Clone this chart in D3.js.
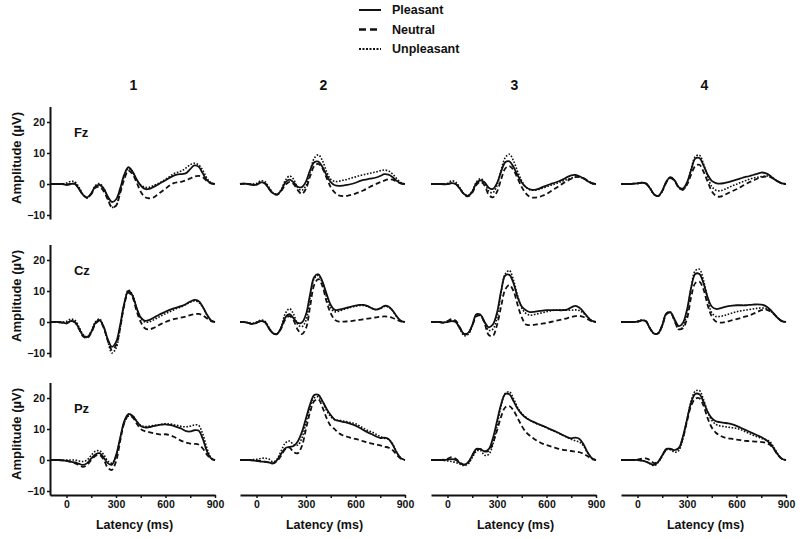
<!DOCTYPE html>
<html>
<head>
<meta charset="utf-8">
<script src="https://cdn.jsdelivr.net/npm/d3@7"></script>
<style>
  html, body { margin: 0; padding: 0; background: #fff; }
  svg { display: block; font-family: "Liberation Sans", Arial, sans-serif; }
</style>
</head>
<body>
<svg id="chart" width="800" height="539"></svg>
<script>
// ---------------- DATA ----------------
const times = [-100,-75,-50,-25,0,25,50,75,100,125,150,175,200,225,250,275,300,325,350,375,400,425,450,475,500,525,550,575,600,625,650,675,700,725,750,775,800,825,850,875,900];
const conditions = ["Pleasant", "Neutral", "Unpleasant"];
const columnTitles = ["1", "2", "3", "4"];
const sites = ["Fz", "Cz", "Pz"];
const yTicks = [-10, 0, 10, 20];
const xTicksMajor = [0, 300, 600, 900];
const xTicksMinor = [150, 450, 750];

// Fz
const fz1_pleasant   = [0,0,0,0,-0.3,0,0,-1.5,-3.5,-4.3,-3,-0.8,-0.3,-1.5,-4,-5.8,-5,-1.5,3,5.4,4,1.5,-0.5,-1.6,-1.6,-1,-0.3,0.5,1.2,2,2.7,3.1,3.2,3.5,4.8,6,5.6,3.5,1.3,0.3,0];
const fz1_neutral    = [0,0,0,0,-0.2,0,0.2,-1.5,-3.5,-4.5,-3.3,-1.2,-1,-2.3,-5,-7.5,-7,-3,1.5,4.3,3.2,0.5,-2.5,-4.2,-4.6,-4.4,-3.5,-2.5,-1.5,-0.5,0.3,0.6,0.8,1.2,1.8,2.4,2.6,2.2,1,0.2,0];
const fz1_unpleasant = [0,0,0,0,0.3,0.8,0.7,-1,-3.3,-4.5,-3.2,-0.5,0.1,-1.3,-4.3,-7.5,-7,-2.5,2.5,5,4,1.3,-0.3,-1,-1.1,-0.6,0,0.7,1.5,2.4,3.3,3.8,4.3,5.2,6.2,6.7,6.2,4.5,2,0.4,0];
const fz2_pleasant   = [0,0.1,0,-0.3,-0.2,0.5,0.3,-1.5,-3,-3.4,-2,0.5,1.4,0.5,-0.9,-1,0.8,4.5,7,7.2,5.5,2.8,0.6,-0.4,-0.6,-0.5,-0.3,0,0.4,0.9,1.3,1.6,1.8,2.1,2.6,3.2,3,2.2,1,0.2,0];
const fz2_neutral    = [0,0.1,0,-0.2,-0.2,0.4,0.2,-1.5,-3,-3.4,-2.2,-0.3,0.7,0,-2,-3.2,-1.5,2.5,5.8,6.5,5,2,-1,-2.8,-3.7,-3.9,-3.8,-3.5,-3.1,-2.6,-2,-1.3,-0.6,0,0.6,1.1,1.5,1.4,0.8,0.2,0];
const fz2_unpleasant = [0,0.1,0,0,0.2,1,0.8,-1,-2.8,-3.3,-1.8,1.2,2.6,1.5,-1.2,-2,-0.5,4,8.3,9.4,7.5,4,1.5,0.8,0.9,1.2,1.5,1.9,2.3,2.7,3,3.3,3.6,3.9,4.3,4.5,4.2,3.2,1.7,0.5,0];
const fz3_pleasant   = [0,0,0,-0.1,0,0.3,0,-1.5,-3.2,-3.8,-2.5,0.3,1.2,0.5,-1.2,-1.6,0.3,4,7,7.3,5.5,2.8,0.5,-1,-1.7,-1.9,-1.6,-1,-0.5,0,0.4,0.9,1.5,2.2,2.8,2.9,2.5,1.8,0.9,0.2,0];
const fz3_neutral    = [0,0,0,0,0,0.3,0,-1.5,-3.3,-4,-2.8,-0.3,0.7,-0.5,-3.5,-4.3,-2.5,1.5,5,5.8,4.5,1.8,-1,-3,-4.2,-4.4,-4.2,-3.8,-3.2,-2.4,-1.5,-0.7,0.2,1,1.7,2.2,2.3,1.9,1.1,0.3,0];
const fz3_unpleasant = [0,0,0,0,0.2,1,0.6,-1.2,-3.2,-3.7,-2.3,0.6,1.7,0.5,-2.3,-2.8,-0.5,4.5,8.5,9.6,7.5,4,1,-1,-1.9,-2,-1.8,-1.4,-0.9,-0.4,0,0.5,1,1.5,1.9,2.2,2.2,1.7,0.9,0.2,0];
const fz4_pleasant   = [0,0,0,0.1,0.2,0.4,0.2,-1.3,-3.3,-3.9,-2.2,0.8,2.2,1.2,-1,-1.5,0.5,4.5,8.2,8.4,6,3,1,0.3,0.1,0.3,0.6,1,1.4,1.8,2.2,2.5,2.9,3.3,3.7,3.5,2.8,1.7,0.8,0.2,0];
const fz4_neutral    = [0,0,0,0.1,0.2,0.4,0.2,-1.3,-3.3,-3.9,-2.3,0.5,1.9,1,-1.2,-1.8,-0.2,3,5.8,6.2,4,0.8,-2.3,-3.8,-4.1,-3.6,-2.9,-2.3,-1.7,-1,-0.2,0.5,1.1,1.7,2.1,2.4,2.3,1.7,0.9,0.2,0];
const fz4_unpleasant = [0,0,0,0.1,0.2,0.4,0.2,-1.3,-3.4,-3.9,-2.3,0.7,2.1,1,-1.2,-1.9,0,4.8,8.8,9.3,6.5,2.5,-0.8,-2,-2.2,-1.8,-1.2,-0.6,-0.1,0.5,1,1.5,1.9,2.2,2.4,2.6,2.5,1.8,0.9,0.2,0];
// Cz
const cz1_pleasant   = [0,0,0,-0.2,-0.4,0.3,0,-2,-4.3,-4.9,-3.2,-0.3,0.6,-1.5,-5.5,-8,-6.5,-1,6,10,8.5,4.5,1.5,0.4,0.6,1.3,2,2.7,3.3,3.9,4.4,4.8,5.2,5.8,6.6,7.1,6.8,5,2.5,0.6,0];
const cz1_neutral    = [0,0,0,-0.2,-0.4,0.3,0,-2.2,-4.6,-5.2,-3.5,-0.6,0.4,-1.8,-6,-9,-7.5,-2,5.5,9.5,8,3.5,0,-2,-2.4,-2,-1.3,-0.6,0,0.5,0.9,1.2,1.5,1.8,2.2,2.5,2.6,2.2,1.2,0.3,0];
const cz1_unpleasant = [0,0,0,0,0.2,0.9,0.6,-1.5,-4,-4.8,-3,0,1,-1.5,-6,-10,-8.5,-2,5.5,10.3,8.8,4.5,1.2,0,0,0.6,1.3,2,2.7,3.3,3.9,4.5,5,5.7,6.4,6.8,6.4,4.8,2.3,0.5,0];
const cz2_pleasant   = [0,0,-0.3,-0.6,-0.3,0.3,0,-2,-3.6,-3.8,-1.8,1.5,2.5,1.2,-0.3,-0.2,2.5,9,14.5,15.4,13,9,5.5,3.9,4,4.3,4.6,5,5.3,5.5,5.5,5.1,4.4,4,4.4,5.2,5,3.7,1.8,0.4,0];
const cz2_neutral    = [0,0,-0.3,-0.6,-0.3,0.3,0,-2,-3.7,-3.9,-2,0.8,1.9,0.5,-2.5,-3.9,-2,5,12,13.8,11.5,6.5,2.8,0.7,0.1,0.1,0.2,0.3,0.5,0.7,0.9,1.1,1.3,1.5,1.7,1.8,1.7,1.3,0.7,0.2,0];
const cz2_unpleasant = [0,0,-0.2,-0.4,0,0.6,0.3,-1.7,-3.5,-3.8,-1.5,2.8,4.3,2.5,-0.8,-1.5,0.5,8,14,15,12.5,8,4.5,3.3,3.5,4,4.4,4.8,5.1,5.3,5.3,5,4.4,4,4.3,5,4.8,3.6,1.7,0.4,0];
const cz3_pleasant   = [0,0,0,-0.2,0,0.3,0,-2,-3.8,-3.5,-1,2.5,2.3,0,-1.7,-0.8,3,10,15,15.2,12.5,8,5,3.8,3.2,3.3,3.5,3.7,3.8,3.8,3.8,3.8,3.8,4,4.7,5.2,4.6,3.2,1.6,0.4,0];
const cz3_neutral    = [0,0,0,-0.2,0.3,0.9,0.4,-1.8,-3.9,-3.7,-1.2,1.8,2.1,-0.5,-4.2,-4.5,-1,5,10.5,11.9,10,5.5,1.5,-0.8,-1,-0.9,-0.7,-0.5,-0.3,0,0.3,0.6,0.9,1.2,1.6,1.9,2,1.6,0.9,0.2,0];
const cz3_unpleasant = [0,0,0,-0.1,0.2,0.5,0,-2.2,-4.4,-4,-1.3,2.3,2.4,-0.2,-2.7,-2.3,1.5,9.5,15.5,16.6,13.5,8.5,4.5,2.8,2.2,2.4,2.7,3,3.3,3.6,3.8,3.9,3.9,3.8,3.8,3.9,3.7,2.8,1.5,0.4,0];
const cz4_pleasant   = [0,0,0,0,0.1,0.5,0.3,-2,-3.7,-3.6,-1,2.8,3.1,0.8,-1.3,-0.3,4,11,15.5,15.5,12.5,8,5,4.2,4.4,4.8,5.1,5.3,5.4,5.4,5.4,5.5,5.6,5.7,5.6,5.2,4.2,2.8,1.3,0.3,0];
const cz4_neutral    = [0,0,0,0,0.1,0.5,0.3,-2,-3.7,-3.6,-1.2,2.5,3,0.3,-2.3,-2,1,8,12.5,13,10.5,5.5,1.8,0.2,-0.2,-0.1,0.2,0.6,0.9,1.3,1.7,2.1,2.6,3.2,3.8,4,3.6,2.6,1.3,0.3,0];
const cz4_unpleasant = [0,0,0,0,0.2,0.6,0.3,-2,-3.8,-3.8,-1.2,2.7,3.2,0.3,-2.4,-1.5,3,11,16.5,17,13.5,7.5,3,1.8,1.8,2.1,2.5,2.9,3.3,3.6,3.8,4,4.2,4.4,4.5,4.4,3.8,2.7,1.3,0.3,0];
// Pz
const pz1_pleasant   = [0,0,0,-0.1,-0.3,-0.5,-0.8,-1.2,-1.6,-1,0.5,1.8,2.2,0.8,-1,-1.5,1.5,7,12.5,14.8,14.3,12.5,11,10.5,10.6,10.9,11.2,11.4,11.5,11.3,11,10.5,10,9.3,9.2,9.6,9.5,7,3,0.6,0];
const pz1_neutral    = [0,0,0,-0.1,-0.3,-0.6,-1,-1.6,-2.2,-1.6,0,1.3,1.6,0.2,-2.5,-3.2,-0.5,6,12,14.3,13.8,11.8,10,9.3,9,8.7,8.4,8.2,8.3,8,7.5,6.8,6.1,5.6,5.3,5.2,5,3.8,1.8,0.4,0];
const pz1_unpleasant = [0,0,0,0,0,0,0,-0.3,-0.5,0,1.5,2.8,3,1.8,-0.3,-1,1,7,12,14.2,14.2,12.5,11.2,10.8,10.9,11.1,11.3,11.5,11.7,11.6,11.4,11.1,10.8,10.7,10.9,11.3,11.2,8.5,4,0.8,0];
const pz2_pleasant   = [0,0,0,-0.1,-0.3,-0.5,-0.6,-0.8,-1.1,0,2,3.8,4.2,4.5,6,9,13.5,18,21,21,19,16.5,14.5,13,12.6,12.3,12,11.6,11.1,10.4,9.6,8.9,8.3,7.6,7.1,7.2,6.8,5,2.4,0.6,0];
const pz2_neutral    = [0,0,0,-0.1,-0.2,-0.3,-0.5,-0.8,-1.1,-0.3,1.5,3.5,4,2.5,2.2,4.5,10,15.5,19,19.6,17,13.5,11,9.9,8.6,7.9,7.5,7.1,6.8,6.4,6,5.6,5.3,5,4.7,4.3,4,3.2,1.6,0.4,0];
const pz2_unpleasant = [0,0,0,0.1,0.2,0.5,0.6,0.3,-0.6,0.3,3,5.5,6.1,5,4.8,7,12,17,20,20.4,18.8,16,14,13,12.8,12.6,12.3,12,11.7,11,10.2,9.5,9,8.3,7.6,7,6.7,5.2,2.5,0.6,0];
const pz3_pleasant   = [0,0,0,0,0.1,0.3,0,-1,-1.6,-0.8,1.5,3.6,3.5,2.8,3.5,7,12.5,18,21.3,21.2,19,16.5,14.8,13.6,12.8,12.2,11.6,11.1,10.5,9.9,9.3,8.7,8,7.4,7,7.2,6.8,5,2.4,0.6,0];
const pz3_neutral    = [0,0,0,0.1,0.4,0.9,0.4,-0.8,-1.5,-0.8,1.3,3.3,3.5,2.8,2.9,5.5,9.5,14,17,17.4,16,13.5,11,9,7.8,6.8,6,5.3,4.8,4.4,4,3.6,3.3,3.1,2.9,2.7,2.5,2,1.2,0.3,0];
const pz3_unpleasant = [0,0,0,-0.1,-0.3,-0.5,-0.8,-1.3,-1.8,-1.3,0.8,2.8,3.1,1.5,1.8,5,11,17.5,21.5,22,19.8,17,15,13.8,12.8,12.1,11.5,11,10.4,9.8,9.2,8.6,8,7.3,6.7,6.2,5.8,4.5,2.2,0.5,0];
const pz4_pleasant   = [0,0,0,0,0,-0.2,-0.5,-1.1,-1.6,-0.6,1.5,3.6,3.6,3.2,3.8,7.5,13,18.5,21.3,21.2,18.8,15.5,13.5,12.5,12.2,12,11.8,11.5,11,10.4,9.8,9.2,8.6,8,7.4,6.6,5.5,3.8,1.8,0.4,0];
const pz4_neutral    = [0,0,0,0,0.1,0.4,0.5,0,-1,-0.5,1.4,3.4,3.5,3.2,3.8,7,12.5,17.5,19.8,19.9,17.5,13.5,10.5,8.8,7.9,7.3,7,6.8,6.6,6.4,6.2,6.1,6,5.9,5.8,5.6,5,3.6,1.7,0.4,0];
const pz4_unpleasant = [0,0,0,0,0,-0.2,-0.5,-1.2,-1.8,-0.8,1.3,3.3,3.3,2.5,3,7,13,19,22.2,22.4,19.5,15.5,12.8,11.5,11,10.8,10.6,10.4,10.2,9.8,9.2,8.6,8,7.5,7,6.6,6,4.2,2,0.4,0];

const panelSeries = [
  [[fz1_pleasant, fz1_neutral, fz1_unpleasant], [fz2_pleasant, fz2_neutral, fz2_unpleasant], [fz3_pleasant, fz3_neutral, fz3_unpleasant], [fz4_pleasant, fz4_neutral, fz4_unpleasant]],
  [[cz1_pleasant, cz1_neutral, cz1_unpleasant], [cz2_pleasant, cz2_neutral, cz2_unpleasant], [cz3_pleasant, cz3_neutral, cz3_unpleasant], [cz4_pleasant, cz4_neutral, cz4_unpleasant]],
  [[pz1_pleasant, pz1_neutral, pz1_unpleasant], [pz2_pleasant, pz2_neutral, pz2_unpleasant], [pz3_pleasant, pz3_neutral, pz3_unpleasant], [pz4_pleasant, pz4_neutral, pz4_unpleasant]]
];

// ---------------- LAYOUT ----------------
const colLeft = [50, 240, 431, 621];
const panelWidth = 165;
const rowZero = [184, 322, 460];
const pxPerUnit = 3.1;
const yDomain = [-11.3, 25];
const styles = {
  Pleasant:   { dash: null,      width: 1.8 },
  Neutral:    { dash: "5,3",     width: 1.8 },
  Unpleasant: { dash: "1.6,1.6", width: 1.6 }
};
const legendStyles = {
  Pleasant:   { dash: null,    width: 2 },
  Neutral:    { dash: "7,4",   width: 2.4 },
  Unpleasant: { dash: "2,1.5", width: 2 }
};

const svg = d3.select("#chart");
const ink = "#111";

// Legend
const legend = svg.append("g");
conditions.forEach((c, i) => {
  const y = 10 + i * 19.5;
  legend.append("line")
    .attr("x1", 359).attr("x2", 381).attr("y1", y).attr("y2", y)
    .attr("stroke", ink).attr("stroke-width", legendStyles[c].width)
    .attr("stroke-dasharray", legendStyles[c].dash);
  legend.append("text")
    .attr("x", 392).attr("y", y).attr("dy", "0.35em")
    .attr("font-size", 12.5).attr("font-weight", "bold").attr("fill", ink)
    .text(c);
});

// Column titles
columnTitles.forEach((t, ci) => {
  svg.append("text")
    .attr("x", colLeft[ci] + panelWidth / 2 + 1).attr("y", 85).attr("dy", "0.35em")
    .attr("text-anchor", "middle").attr("font-size", 14).attr("font-weight", "bold")
    .attr("fill", ink).text(t);
});

sites.forEach((site, ri) => {
  const y = d3.scaleLinear().domain(yDomain)
    .range([rowZero[ri] - yDomain[0] * pxPerUnit, rowZero[ri] - yDomain[1] * pxPerUnit]);

  // Y axis label
  svg.append("text")
    .attr("transform", `translate(16, ${rowZero[ri] - 26}) rotate(-90)`)
    .attr("text-anchor", "middle").attr("dy", "0.35em")
    .attr("font-size", 13).attr("font-weight", "bold").attr("fill", ink)
    .text("Amplitude (µV)");

  columnTitles.forEach((col, ci) => {
    const x = d3.scaleLinear().domain([-100, 900]).range([colLeft[ci], colLeft[ci] + panelWidth]);
    const g = svg.append("g");

    if (ci === 0) {
      const ax = g.append("g")
        .attr("transform", `translate(${colLeft[ci]},0)`)
        .call(d3.axisLeft(y).tickValues(yTicks).tickSize(3).tickSizeOuter(0).tickPadding(2));
      ax.select(".domain").attr("stroke", ink).attr("stroke-width", 2);
      ax.selectAll(".tick line").attr("stroke", ink).attr("stroke-width", 1.5);
      ax.selectAll(".tick text").attr("font-size", 10.5).attr("font-weight", "bold")
        .attr("fill", ink).attr("font-family", "Liberation Sans, Arial, sans-serif");
      // site label
      g.append("text")
        .attr("x", x(45)).attr("y", y(16.7)).attr("dy", "0.35em")
        .attr("font-size", 13).attr("font-weight", "bold").attr("fill", ink)
        .text(site);
    }

    if (ri === sites.length - 1) {
      const ax = g.append("g")
        .attr("transform", `translate(0,${y(yDomain[0])})`)
        .call(d3.axisBottom(x)
          .tickValues(xTicksMajor.concat(xTicksMinor).sort((a, b) => a - b))
          .tickFormat(d => xTicksMajor.includes(d) ? d : "")
          .tickSize(3).tickSizeOuter(0).tickPadding(3));
      ax.select(".domain").attr("stroke", ink).attr("stroke-width", 2);
      ax.selectAll(".tick line").attr("stroke", ink).attr("stroke-width", 1.5);
      ax.selectAll(".tick text").attr("font-size", 10.5).attr("font-weight", "bold")
        .attr("fill", ink).attr("font-family", "Liberation Sans, Arial, sans-serif");
      g.append("text")
        .attr("x", colLeft[ci] + panelWidth / 2 + 2).attr("y", 525).attr("dy", "0.35em")
        .attr("text-anchor", "middle").attr("font-size", 12.5).attr("font-weight", "bold")
        .attr("fill", ink).text("Latency (ms)");
    }

    const line = d3.line()
      .x((d, i) => x(times[i]))
      .y(d => y(d))
      .curve(d3.curveCatmullRom.alpha(0.5));

    conditions.forEach((c, k) => {
      g.append("path")
        .datum(panelSeries[ri][ci][k])
        .attr("d", line)
        .attr("fill", "none")
        .attr("stroke", ink)
        .attr("stroke-width", styles[c].width)
        .attr("stroke-dasharray", styles[c].dash)
        .attr("stroke-linejoin", "round");
    });
  });
});
</script>
</body>
</html>
